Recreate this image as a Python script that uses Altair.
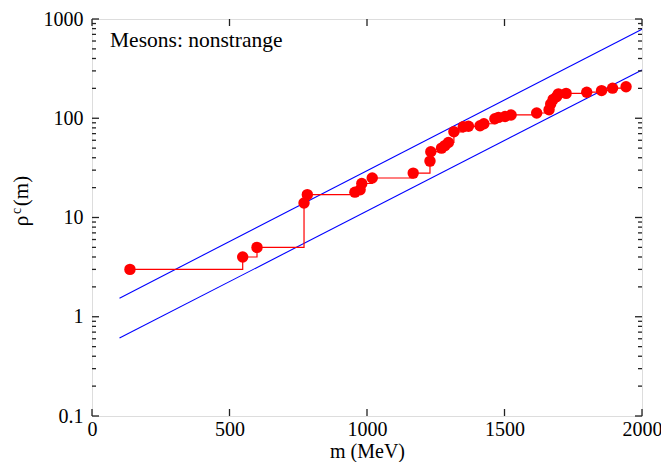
import altair as alt
import pandas as pd

# ---- data ----
mass = [138, 548, 600, 771, 783, 956, 975, 981, 1019, 1168, 1229, 1232, 1271, 1283,
        1296, 1316, 1350, 1369, 1411, 1425, 1465, 1478, 1502, 1524, 1617, 1662, 1668,
        1677, 1689, 1696, 1724, 1799, 1853, 1893, 1942]
rho = [3, 4, 5, 14, 17, 18, 19, 22, 25, 28, 37, 46, 50, 53,
       57, 73, 82, 83, 84, 88, 99, 102, 104, 108, 113, 122, 139,
       155, 165, 176, 178, 183, 190, 201, 208]

fit_m = [100, 2000]
fit_upper = [1.54, 790]
fit_lower = [0.61, 307]

x_ticks = [0, 500, 1000, 1500, 2000]
y_ticks = [0.1, 1, 10, 100, 1000]
y_minor = [0.2, 0.3, 0.4, 0.5, 0.6, 0.7, 0.8, 0.9,
           2, 3, 4, 5, 6, 7, 8, 9,
           20, 30, 40, 50, 60, 70, 80, 90,
           200, 300, 400, 500, 600, 700, 800, 900]

annotation = "Mesons: nonstrange"
x_title = "m (MeV)"
y_title_parts = ["ρ", "c", "(m)"]

FONT = "Liberation Serif"
W, H = 550, 397
FRAME = "#222222"
MAJOR, MINOR = 7, 4

pts = pd.DataFrame({"m": mass, "rho": rho})
fits = pd.DataFrame({
    "m": fit_m + fit_m,
    "rho": fit_upper + fit_lower,
    "fit": ["upper"] * len(fit_m) + ["lower"] * len(fit_m),
})
xt = pd.DataFrame({"v": x_ticks})
ytm = pd.DataFrame({"v": y_ticks})
ytn = pd.DataFrame({"v": y_minor})

xscale = alt.Scale(domain=[0, 2000], nice=False, zero=False)
yscale = alt.Scale(type="log", domain=[0.1, 1000], nice=False)

x_main = alt.Axis(values=x_ticks, format="d", ticks=False, domain=False, grid=False,
                  labelFont=FONT, labelFontSize=20, labelColor="black", labelPadding=3,
                  labelFlush=False, labelOverlap=False,
                  title=x_title, titleFont=FONT, titleFontSize=20,
                  titleFontWeight="normal", titleColor="black", titlePadding=2)
y_main = alt.Axis(values=y_ticks, format="~g", ticks=False, domain=False, grid=False,
                  labelFont=FONT, labelFontSize=20, labelColor="black", labelPadding=9,
                  labelFlush=False, labelOverlap=False, title=None)

fit_layer = alt.Chart(fits).mark_line(color="#0000ff", strokeWidth=1.1).encode(
    x=alt.X("m:Q", scale=xscale, axis=x_main),
    y=alt.Y("rho:Q", scale=yscale, axis=y_main),
    detail="fit:N",
)

step_layer = alt.Chart(pts).mark_line(color="#ff0000", strokeWidth=1.2,
                                      interpolate="step-after").encode(
    x=alt.X("m:Q", scale=xscale),
    y=alt.Y("rho:Q", scale=yscale),
)

point_layer = alt.Chart(pts).mark_circle(color="#ff0000", size=130, opacity=1).encode(
    x=alt.X("m:Q", scale=xscale),
    y=alt.Y("rho:Q", scale=yscale),
)


# inward tick marks on all four edges, placed through the scales
def xtick(ypix):
    return alt.Chart(xt).mark_tick(orient="vertical", size=MAJOR, thickness=1.3,
                                   color=FRAME, opacity=1).encode(
        x=alt.X("v:Q", scale=xscale), y=alt.value(ypix))


def ytick(df, xpix, size):
    return alt.Chart(df).mark_tick(orient="horizontal", size=size, thickness=1.3,
                                   color=FRAME, opacity=1).encode(
        y=alt.Y("v:Q", scale=yscale), x=alt.value(xpix))


tick_layers = [
    xtick(MAJOR / 2), xtick(H - MAJOR / 2),
    ytick(ytm, MAJOR / 2, MAJOR), ytick(ytm, W - MAJOR / 2, MAJOR),
    ytick(ytn, MINOR / 2, MINOR), ytick(ytn, W - MINOR / 2, MINOR),
]

note = alt.Chart(pd.DataFrame({"t": [annotation]})).mark_text(
    font=FONT, fontSize=21.5, align="left", baseline="alphabetic", color="black").encode(
    x=alt.value(18), y=alt.value(28), text="t:N")

rho_txt = alt.Chart(pd.DataFrame({"t": [y_title_parts[0]]})).mark_text(
    font=FONT, fontSize=22, angle=270, align="center", baseline="alphabetic",
    color="black").encode(x=alt.value(-64), y=alt.value(202), text="t:N")
c_txt = alt.Chart(pd.DataFrame({"t": [y_title_parts[1]]})).mark_text(
    font=FONT, fontSize=14, angle=270, align="center", baseline="alphabetic",
    color="black").encode(x=alt.value(-71), y=alt.value(192), text="t:N")
m_txt = alt.Chart(pd.DataFrame({"t": [y_title_parts[2]]})).mark_text(
    font=FONT, fontSize=21, angle=270, align="center", baseline="alphabetic",
    color="black").encode(x=alt.value(-64), y=alt.value(172), text="t:N")

chart = alt.layer(
    fit_layer, *tick_layers, step_layer, point_layer,
    note, rho_txt, c_txt, m_txt,
).properties(
    width=W, height=H,
    autosize=alt.AutoSizeParams(type="none"),
    padding={"left": 84, "top": 11, "right": 19, "bottom": 46},
).configure_view(stroke=FRAME, strokeWidth=2).configure(background="white")

chart.save("out.html", embed_options={"renderer": "svg", "actions": False})
